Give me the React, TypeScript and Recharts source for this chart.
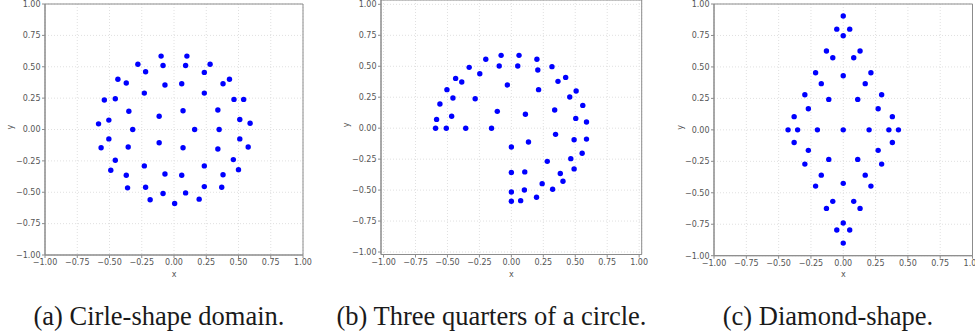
import { ScatterChart, Scatter, XAxis, YAxis, CartesianGrid, ReferenceArea } from 'recharts'

// shared tick values for both axes
const axisTicks = [-1, -0.75, -0.5, -0.25, 0, 0.25, 0.5, 0.75, 1]

// (a) circle-shape domain, [x, y]
const circlePoints = [
  [-0.1, 0.585], [0.1, 0.585], [-0.28, 0.52], [0.28, 0.52], [-0.085, 0.51], [0.09, 0.51],
  [-0.22, 0.46], [0.235, 0.455], [-0.435, 0.4], [0.43, 0.4], [-0.37, 0.37], [0.06, 0.365],
  [0.38, 0.365], [-0.07, 0.355], [-0.23, 0.29], [0.235, 0.29], [-0.54, 0.235], [-0.455, 0.245],
  [0.465, 0.24], [0.54, 0.24], [-0.35, 0.145], [0.07, 0.15], [0.34, 0.155], [-0.115, 0.105],
  [-0.505, 0.075], [0.51, 0.08], [-0.585, 0.045], [0.59, 0.05], [-0.32, 0], [0.16, 0], [0.35, 0],
  [-0.505, -0.075], [0.51, -0.075], [-0.115, -0.105], [-0.565, -0.145], [-0.355, -0.14],
  [0.07, -0.145], [0.34, -0.155], [0.575, -0.14], [-0.455, -0.245], [0.46, -0.24],
  [-0.23, -0.29], [0.235, -0.29], [-0.49, -0.325], [0.5, -0.32], [-0.37, -0.365],
  [-0.07, -0.355], [0.06, -0.365], [0.38, -0.36], [-0.36, -0.465], [-0.22, -0.46],
  [0.235, -0.455], [0.37, -0.46], [-0.085, -0.51], [0.09, -0.505], [-0.185, -0.56],
  [0.195, -0.555], [0.005, -0.59],
]

// (b) three quarters of a circle
const threeQuarterPoints = [
  [-0.08, 0.588], [0.06, 0.588], [-0.2, 0.556], [0.2, 0.556], [-0.33, 0.491], [-0.095, 0.502],
  [0.05, 0.502], [0.318, 0.497], [0.207, 0.47], [-0.247, 0.44], [-0.436, 0.402], [0.425, 0.41],
  [-0.388, 0.373], [0.365, 0.378], [-0.031, 0.349], [-0.504, 0.311], [0.213, 0.311], [0.507, 0.3],
  [-0.457, 0.244], [-0.283, 0.238], [0.457, 0.252], [-0.559, 0.195], [0.559, 0.184],
  [-0.11, 0.136], [0.339, 0.147], [-0.467, 0.096], [0.11, 0.112], [-0.585, 0.071],
  [0.504, 0.079], [0.588, 0.05], [-0.593, 0], [-0.509, 0], [-0.357, 0], [-0.155, 0],
  [0.346, -0.05], [0.491, -0.093], [0.588, -0.088], [0.134, -0.112], [0, -0.152],
  [0.554, -0.203], [0.465, -0.246], [0.281, -0.268], [0.491, -0.329], [0, -0.358],
  [0.105, -0.353], [0.383, -0.366], [0.404, -0.429], [0.241, -0.448], [0.323, -0.493],
  [0.102, -0.499], [0, -0.515], [0.197, -0.558], [0, -0.59], [0.073, -0.585],
]

// (c) diamond-shape
const diamondPoints = [
  [0, 0.905], [-0.05, 0.8], [0.05, 0.8], [0, 0.748], [-0.13, 0.626], [0.13, 0.626],
  [-0.081, 0.573], [0.081, 0.573], [-0.214, 0.454], [0.214, 0.454], [0, 0.43],
  [-0.17, 0.367], [0.17, 0.367], [-0.297, 0.279], [0.297, 0.279], [-0.112, 0.242], [0.112, 0.242],
  [-0.27, 0.168], [0.27, 0.168], [-0.38, 0.105], [0.38, 0.105], [-0.427, 0], [0.427, 0],
  [-0.353, 0], [0.353, 0], [-0.2, 0], [0.2, 0], [0, 0],
  [-0.38, -0.1], [0.38, -0.1], [-0.27, -0.163], [0.27, -0.163], [-0.297, -0.272], [0.297, -0.272],
  [-0.112, -0.235], [0.112, -0.235], [-0.17, -0.36], [0.17, -0.36], [-0.214, -0.447], [0.214, -0.447],
  [0, -0.425], [-0.081, -0.568], [0.081, -0.568], [-0.13, -0.624], [0.13, -0.624],
  [0, -0.74], [-0.05, -0.796], [0.05, -0.796], [0, -0.9],
]

const captions = ['(a) Cirle-shape domain.', '(b) Three quarters of a circle.', '(c) Diamond-shape.']

const fmt = (v: number) => v.toFixed(2).replace('-', '\u2212')

const tickStyle = { fill: '#555', fontSize: 8, fontFamily: 'DejaVu Sans' }
const labelStyle = { fill: '#555', fontSize: 8, fontFamily: 'DejaVu Sans' }

interface PanelProps {
  points: number[][]
  left: number
  width: number
  margin: { top: number; right: number; left: number; bottom: number }
  yAxisWidth: number
  xAxisHeight: number
  xDomain: [number, number]
  yDomain: [number, number]
  yLabelOffset: number
}

function Panel({ points, left, width, margin, yAxisWidth, xAxisHeight, xDomain, yDomain, yLabelOffset }: PanelProps) {
  const data = points.map(([x, y]) => ({ x, y }))
  return (
    <div style={{ position: 'absolute', left, top: 0 }}>
      <ScatterChart width={width} height={290} margin={margin}>
        <CartesianGrid stroke="#e0e0e0" strokeDasharray="1 2" />
        <ReferenceArea
          x1={xDomain[0]}
          x2={xDomain[1]}
          y1={yDomain[0]}
          y2={yDomain[1]}
          fill="none"
          stroke="#8c8c8c"
          ifOverflow="visible"
        />
        <XAxis
          type="number"
          dataKey="x"
          domain={xDomain}
          ticks={axisTicks}
          interval={0}
          allowDataOverflow
          tickFormatter={fmt}
          tick={tickStyle}
          tickSize={3}
          tickMargin={1.5}
          stroke="#8c8c8c"
          height={xAxisHeight}
          label={{ value: 'x', position: 'insideBottom', offset: 13, ...labelStyle }}
        />
        <YAxis
          type="number"
          dataKey="y"
          domain={yDomain}
          ticks={axisTicks}
          interval={0}
          allowDataOverflow
          tickFormatter={fmt}
          tick={tickStyle}
          tickSize={3}
          tickMargin={1.5}
          stroke="#8c8c8c"
          width={yAxisWidth}
          label={{ value: 'y', position: 'insideLeft', angle: -90, offset: yLabelOffset, ...labelStyle }}
        />
        <Scatter
          data={data}
          fill="#0000ff"
          isAnimationActive={false}
          shape={(props: any) => <circle cx={props.cx} cy={props.cy} r={2.7} fill="#0000ff" />}
        />
      </ScatterChart>
    </div>
  )
}

export default function App() {
  return (
    <div style={{ position: 'absolute', left: 0, top: 0, width: 975, height: 335, background: '#fff', overflow: 'hidden' }}>
      <Panel
        points={circlePoints}
        left={0}
        width={320}
        margin={{ top: 4, right: 17, left: 0, bottom: 0 }}
        yAxisWidth={45}
        xAxisHeight={35}
        xDomain={[-1, 1]}
        yDomain={[-1, 1]}
        yLabelOffset={10}
      />
      <Panel
        points={threeQuarterPoints}
        left={325}
        width={325}
        margin={{ top: 0, right: 8.3, left: 0, bottom: 0 }}
        yAxisWidth={56}
        xAxisHeight={35.5}
        xDomain={[-1.02, 1.02]}
        yDomain={[-1.02, 1.035]}
        yLabelOffset={20.7}
      />
      <Panel
        points={diamondPoints}
        left={650}
        width={325}
        margin={{ top: 4, right: 2.5, left: 0, bottom: 0 }}
        yAxisWidth={64}
        xAxisHeight={34.3}
        xDomain={[-1, 1]}
        yDomain={[-1, 1]}
        yLabelOffset={30}
      />
      <svg width={975} height={335} style={{ position: 'absolute', left: 0, top: 0, pointerEvents: 'none' }}>
        {captions.map((c, i) => (
          <text
            key={c}
            x={[159, 491.5, 828][i]}
            y={325}
            textAnchor="middle"
            fontFamily="Liberation Serif"
            fontSize={26.5}
            fill="#1a1a1a"
          >
            {c}
          </text>
        ))}
      </svg>
    </div>
  )
}
